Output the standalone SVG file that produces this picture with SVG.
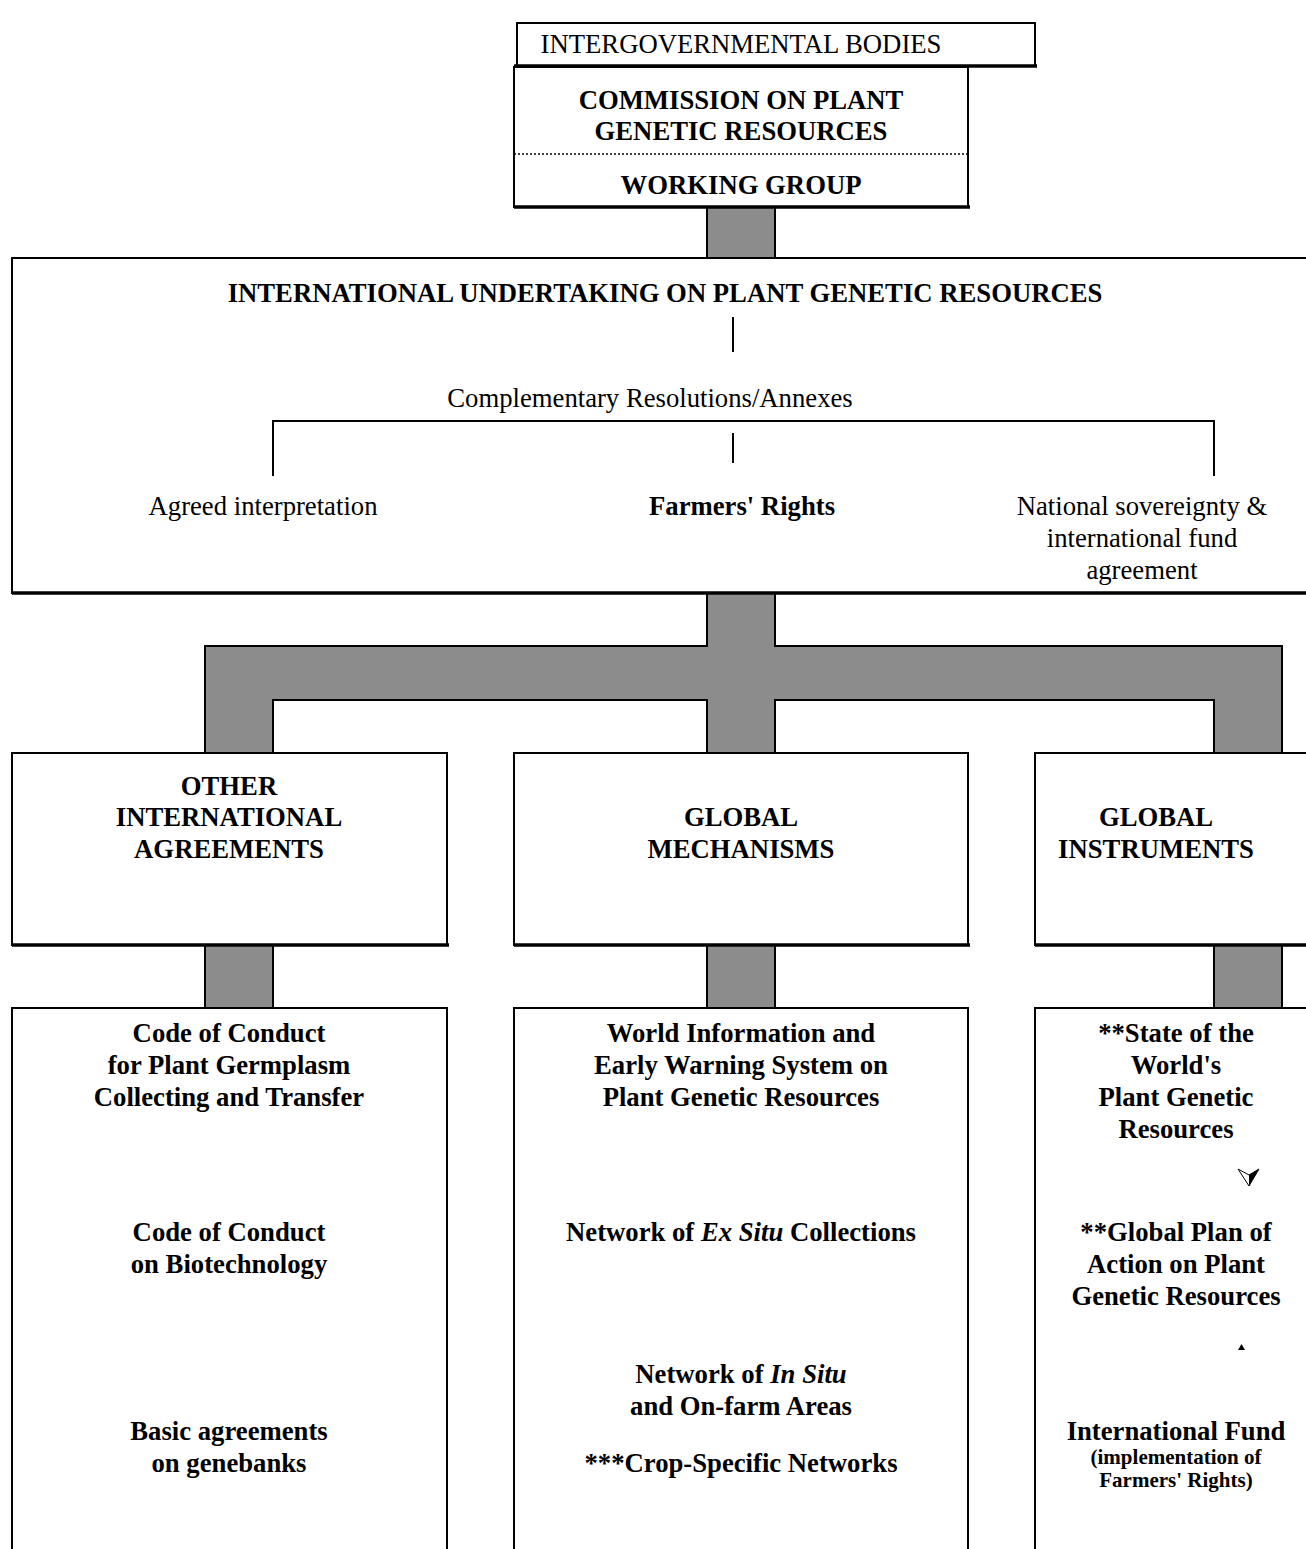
<svg xmlns="http://www.w3.org/2000/svg" width="1306" height="1549" viewBox="0 0 1306 1549">
<style>
.box{fill:#fff;stroke:#000;stroke-width:2}
.btm{stroke:#000;stroke-width:3.5}
.gray{fill:#8c8c8c;stroke:#000;stroke-width:2}
.ln{stroke:#000;stroke-width:2;fill:none}
text{font-family:"Liberation Serif","Times New Roman",serif;font-size:26.7px;fill:#000;text-anchor:middle}
.b{font-weight:bold}
.s{font-size:21px;font-weight:bold}
</style>
<rect width="1306" height="1549" fill="#fff"/>
<g id="connectors">
<rect class="gray" x="707" y="207" width="68" height="51"/>
<path class="gray" d="M707,593 V646 H205 V753 H273 V700 H707 V753 H775 V700 H1214 V753 H1282 V646 H775 V593 Z"/>
<rect class="gray" x="205" y="945" width="68" height="63"/>
<rect class="gray" x="707" y="945" width="68" height="63"/>
<rect class="gray" x="1214" y="945" width="68" height="63"/>
</g>
<g id="intergovernmental">
<rect class="box" x="517" y="23" width="518" height="43"/>
<line class="btm" x1="514" y1="66" x2="1037" y2="66"/>
<text x="741" y="53">INTERGOVERNMENTAL BODIES</text>
</g>
<g id="commission">
<rect class="box" x="514" y="67" width="454" height="140"/>
<line class="btm" x1="514" y1="207" x2="970" y2="207"/>
<text class="b" x="741" y="109">COMMISSION ON PLANT</text>
<text class="b" x="741" y="140">GENETIC RESOURCES</text>
<line x1="514" y1="154" x2="968" y2="154" stroke="#000" stroke-width="1.5" stroke-dasharray="2,2"/>
<text class="b" x="741" y="194">WORKING GROUP</text>
</g>
<g id="undertaking">
<rect class="box" x="12" y="258" width="1300" height="335"/>
<line class="btm" x1="12" y1="593" x2="1306" y2="593"/>
<text class="b" x="665" y="302">INTERNATIONAL UNDERTAKING ON PLANT GENETIC RESOURCES</text>
<line class="ln" x1="733" y1="317" x2="733" y2="352"/>
<text x="650" y="407">Complementary Resolutions/Annexes</text>
<path class="ln" d="M273,476 V421 H1214 V476"/>
<line class="ln" x1="733" y1="433" x2="733" y2="463"/>
<text x="263" y="515">Agreed interpretation</text>
<text class="b" x="742" y="515">Farmers' Rights</text>
<text x="1142" y="515">National sovereignty &amp;</text>
<text x="1142" y="547">international fund</text>
<text x="1142" y="579">agreement</text>
</g>
<g id="other-agreements">
<rect class="box" x="12" y="753" width="435" height="192"/>
<line class="btm" x1="12" y1="945" x2="449" y2="945"/>
<text class="b" x="229" y="795">OTHER</text>
<text class="b" x="229" y="826">INTERNATIONAL</text>
<text class="b" x="229" y="858">AGREEMENTS</text>
</g>
<g id="global-mechanisms">
<rect class="box" x="514" y="753" width="454" height="192"/>
<line class="btm" x1="514" y1="945" x2="970" y2="945"/>
<text class="b" x="741" y="826">GLOBAL</text>
<text class="b" x="741" y="858">MECHANISMS</text>
</g>
<g id="global-instruments">
<rect class="box" x="1035" y="753" width="280" height="192"/>
<line class="btm" x1="1035" y1="945" x2="1306" y2="945"/>
<text class="b" x="1156" y="826">GLOBAL</text>
<text class="b" x="1156" y="858">INSTRUMENTS</text>
</g>
<g id="other-list">
<rect class="box" x="12" y="1008" width="435" height="560"/>
<text class="b" x="229" y="1042">Code of Conduct</text>
<text class="b" x="229" y="1074">for Plant Germplasm</text>
<text class="b" x="229" y="1106">Collecting and Transfer</text>
<text class="b" x="229" y="1241">Code of Conduct</text>
<text class="b" x="229" y="1273">on Biotechnology</text>
<text class="b" x="229" y="1440">Basic agreements</text>
<text class="b" x="229" y="1472">on genebanks</text>
</g>
<g id="mechanisms-list">
<rect class="box" x="514" y="1008" width="454" height="560"/>
<text class="b" x="741" y="1042">World Information and</text>
<text class="b" x="741" y="1074">Early Warning System on</text>
<text class="b" x="741" y="1106">Plant Genetic Resources</text>
<text class="b" x="741" y="1241">Network of <tspan font-style="italic">Ex Situ</tspan> Collections</text>
<text class="b" x="741" y="1383">Network of <tspan font-style="italic">In Situ</tspan></text>
<text class="b" x="741" y="1415">and On-farm Areas</text>
<text class="b" x="741" y="1472">***Crop-Specific Networks</text>
</g>
<g id="instruments-list">
<rect class="box" x="1035" y="1008" width="280" height="560"/>
<text class="b" x="1176" y="1042">**State of the</text>
<text class="b" x="1176" y="1074">World's</text>
<text class="b" x="1176" y="1106">Plant Genetic</text>
<text class="b" x="1176" y="1138">Resources</text>
<path d="M1238,1169 L1249,1175 L1259,1169 L1249,1186 Z" fill="#fff" stroke="#000" stroke-width="1"/>
<path d="M1249,1175 L1259,1169 L1249,1186 Z" fill="#000"/>
<text class="b" x="1176" y="1241">**Global Plan of</text>
<text class="b" x="1176" y="1273">Action on Plant</text>
<text class="b" x="1176" y="1305">Genetic Resources</text>
<path d="M1241.5,1344 L1245,1350 L1238,1350 Z" fill="#000"/>
<text class="b" x="1176" y="1440">International Fund</text>
<text class="s" x="1176" y="1464">(implementation of</text>
<text class="s" x="1176" y="1487">Farmers' Rights)</text>
</g>
</svg>
